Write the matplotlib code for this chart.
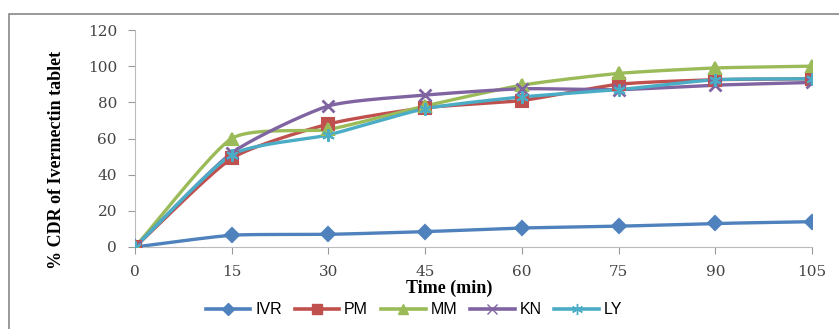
import numpy as np
import matplotlib
matplotlib.use("Agg")
import matplotlib.pyplot as plt
from matplotlib.patches import Rectangle

time = [0, 15, 30, 45, 60, 75, 90, 105]
ivr = [0, 6.5, 7, 8.5, 10.5, 11.5, 13, 14]
pm = [0, 49, 68, 77, 81, 90, 92.5, 93]
mm = [0, 60, 65, 78, 89.5, 96, 99, 100]
kn = [0, 52, 78, 84, 87.5, 87, 89.5, 91]
ly = [0, 51, 62, 76.5, 83, 87, 92.5, 93]

series = [
    ("IVR", ivr, "#4F81BD", "D", 7),
    ("PM", pm, "#C0504D", "s", 8),
    ("MM", mm, "#9BBB59", "^", 8),
    ("KN", kn, "#8064A2", "x", 8),
    ("LY", ly, "#4BACC6", (6, 2, 0), 9),
]


def smooth(x, y, n=20):
    # catmull-rom style curve through the points (like Excel smoothed lines)
    x = np.asarray(x, float)
    y = np.asarray(y, float)
    px = np.concatenate([[2 * x[0] - x[1]], x, [2 * x[-1] - x[-2]]])
    py = np.concatenate([[2 * y[0] - y[1]], y, [2 * y[-1] - y[-2]]])
    xs, ys = [], []
    t = np.linspace(0, 1, n, endpoint=False)
    for i in range(1, len(px) - 2):
        for p, out in ((px, xs), (py, ys)):
            p0, p1, p2, p3 = p[i - 1], p[i], p[i + 1], p[i + 2]
            m1 = (p2 - p0) / 2 * 0.6
            m2 = (p3 - p1) / 2 * 0.6
            h00 = 2 * t**3 - 3 * t**2 + 1
            h10 = t**3 - 2 * t**2 + t
            h01 = -2 * t**3 + 3 * t**2
            h11 = t**3 - t**2
            out.extend(h00 * p1 + h10 * m1 + h01 * p2 + h11 * m2)
    xs.append(x[-1])
    ys.append(y[-1])
    return xs, ys


fig = plt.figure(figsize=(8.39, 3.29), dpi=100)
fig.patches.append(Rectangle((9 / 839, -0.1), 1.2, 1 - 14 / 329 + 0.1,
                             transform=fig.transFigure, fill=False,
                             edgecolor="#888888", linewidth=1.2))
ax = fig.add_axes([135 / 839, 1 - 247 / 329, (812 - 135) / 839, (247 - 30) / 329])

for name, vals, col, mk, ms in series:
    sx, sy = smooth(time, vals)
    ax.plot(sx, sy, color=col, lw=2.4, zorder=2)
    ax.plot(time, vals, linestyle="none", marker=mk, color=col, ms=ms,
            mew=2 if mk == "x" else 1.5, zorder=3)
    ax.plot([], [], color=col, lw=2.6, marker=mk, ms=ms - 1, label=name)

ax.set_xlim(0, 105)
ax.set_ylim(0, 120)
ax.set_xticks(time)
ax.set_yticks(range(0, 121, 20))
for s in ("top", "right"):
    ax.spines[s].set_visible(False)
for s in ("left", "bottom"):
    ax.spines[s].set_color("#BBBBBB")
ax.tick_params(colors="#999999", labelcolor="#444444", labelsize=11, length=5)
ax.tick_params(axis="x", pad=8)
ax.tick_params(axis="y", pad=8)
for lab in ax.get_xticklabels() + ax.get_yticklabels():
    lab.set_family("DejaVu Serif")
ax.set_xlabel("Time (min)", fontsize=13, fontweight="bold",
              family="Liberation Serif", va="center")
ax.xaxis.set_label_coords((449 - 135) / 677, -41 / 217)
ax.set_ylabel("% CDR of Ivermectin tablet", fontsize=13, fontweight="bold",
              family="Liberation Serif", va="center")
ax.yaxis.set_label_coords(-78 / 677, 0.40)

fig.legend(loc="center", bbox_to_anchor=(414 / 839, 1 - 310 / 329), ncol=5,
           frameon=False, handlelength=2.8, columnspacing=0.8,
           handletextpad=0.3, prop={"family": "Liberation Sans", "size": 11.5})

fig.savefig("out.png", dpi=100)
